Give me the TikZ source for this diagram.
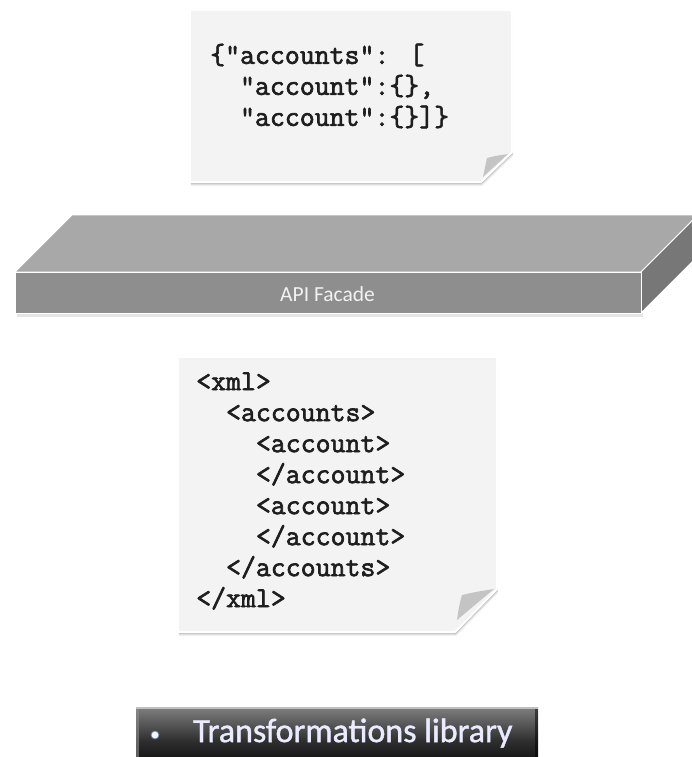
\documentclass[tikz,border=0pt]{standalone}
\usepackage{fontspec}
\setmainfont{Carlito}
\newfontfamily\codefont{Latin Modern Mono}[FakeBold=2.2]
\newfontfamily\uifont{Carlito}
\newfontfamily\barfont{Carlito}[FakeBold=1.2]
\usetikzlibrary{calc}

\definecolor{notefill}{HTML}{F3F3F3}
\definecolor{flapgray}{HTML}{C4C4C4}
\definecolor{slabtop}{HTML}{A8A8A8}
\definecolor{slabfront}{HTML}{8E8E8E}
\definecolor{slabside}{HTML}{777777}
\definecolor{codeink}{HTML}{1E1E1E}
\definecolor{glowblue}{HTML}{9FC3F0}

\tikzset{
  notepaper/.style={fill=notefill, draw=white, line width=1.6pt, line join=miter},
  noteflap/.style={fill=flapgray, draw=none},
  codetext/.style={anchor=west, align=left, inner sep=0pt, text=codeink,
    font=\codefont\fontsize{29}{31}\selectfont},
  slabface/.style={draw=white, line width=0.9pt, line join=round},
  slablabel/.style={inner sep=0pt, text=white!95!black,
    font=\uifont\fontsize{21.5}{24}\selectfont},
  barlabel/.style={anchor=west, inner sep=0pt, text=white!92!blue,
    font=\barfont\fontsize{34}{36}\selectfont},
}

\begin{document}
\begin{tikzpicture}[x=1pt,y=-1pt]
\useasboundingbox[fill=white] (0,0) rectangle (691,757);

% ---------- JSON note ----------
\foreach \d/\o in {4/0.05,3/0.07,2/0.10}{
  \fill[black, opacity=\o] (190+\d*0.3,10+\d) -- (512+\d*0.3,10+\d) -- (512+\d*0.3,152+\d)
     -- (481+\d*0.3,182+\d) -- (190+\d*0.3,182+\d) -- cycle;
}
\path[notepaper] (190,10) -- (512,10) -- (512,152) -- (481,182) -- (190,182) -- cycle;
\path[noteflap] (487,158) .. controls (495,156) .. (508,154) -- (483,177) .. controls (485,168) .. cycle;
\draw[white, line width=1.6pt] (512,152) -- (481,182);
\node[codetext] (json) at (210,86)
  {\{“accounts”: [\\
   \ \ ”account”:\{\},\\
   \ \ ”account”:\{\}]\}};

% ---------- API facade slab ----------
\coordinate (fl) at (15,272);
\coordinate (fr) at (641,272);
\coordinate (bl) at (15,313);
\coordinate (br) at (641,313);
\coordinate (depth) at (57,-57);
\fill[black, opacity=0.10] (17,313) rectangle (643,317);
\path[slabface, fill=slabtop] (fl) -- ($(fl)+(depth)$) -- ($(fr)+(depth)$) -- (fr) -- cycle;
\path[slabface, fill=slabside] (fr) -- ($(fr)+(depth)$) -- ($(br)+(depth)$) -- (br) -- cycle;
\path[slabface, fill=slabfront] (fl) rectangle (br);
\node[slablabel] (facade) at (327.5,294) {API Facade};

% ---------- XML note ----------
\foreach \d/\o in {4/0.05,3/0.07,2/0.10}{
  \fill[black, opacity=\o] (178+\d*0.3,357+\d) -- (497+\d*0.3,357+\d) -- (497+\d*0.3,589+\d)
     -- (455+\d*0.3,632+\d) -- (178+\d*0.3,632+\d) -- cycle;
}
\path[notepaper] (178,357) -- (497,357) -- (497,589) -- (455,632) -- (178,632) -- cycle;
\path[noteflap] (462,595) .. controls (475,592) .. (494,589) -- (457,620) .. controls (459,606) .. cycle;
\draw[white, line width=1.6pt] (497,589) -- (455,632);
\node[codetext] (xml) at (196,491)
  {<xml>\\
   \ \ <accounts>\\
   \ \ \ \ <account>\\
   \ \ \ \ </account>\\
   \ \ \ \ <account>\\
   \ \ \ \ </account>\\
   \ \ </accounts>\\
   </xml>};

% ---------- Transformations library bar ----------
\shade[top color=black!50, bottom color=black, middle color=black!82]
  (136,707) rectangle (538,775);
\fill[black!25] (136,707) rectangle (538,709);
\fill[black!45, opacity=0.6] (136,709) rectangle (139,757);
\fill[black, opacity=0.5] (535,709) rectangle (538,757);
\fill[glowblue, opacity=0.5] (155,735) circle (4.4);
\fill[white!96!blue] (155,735) circle (3.4);
\node[barlabel] (lib) at (193,733) {Transformations library};
\end{tikzpicture}
\end{document}
